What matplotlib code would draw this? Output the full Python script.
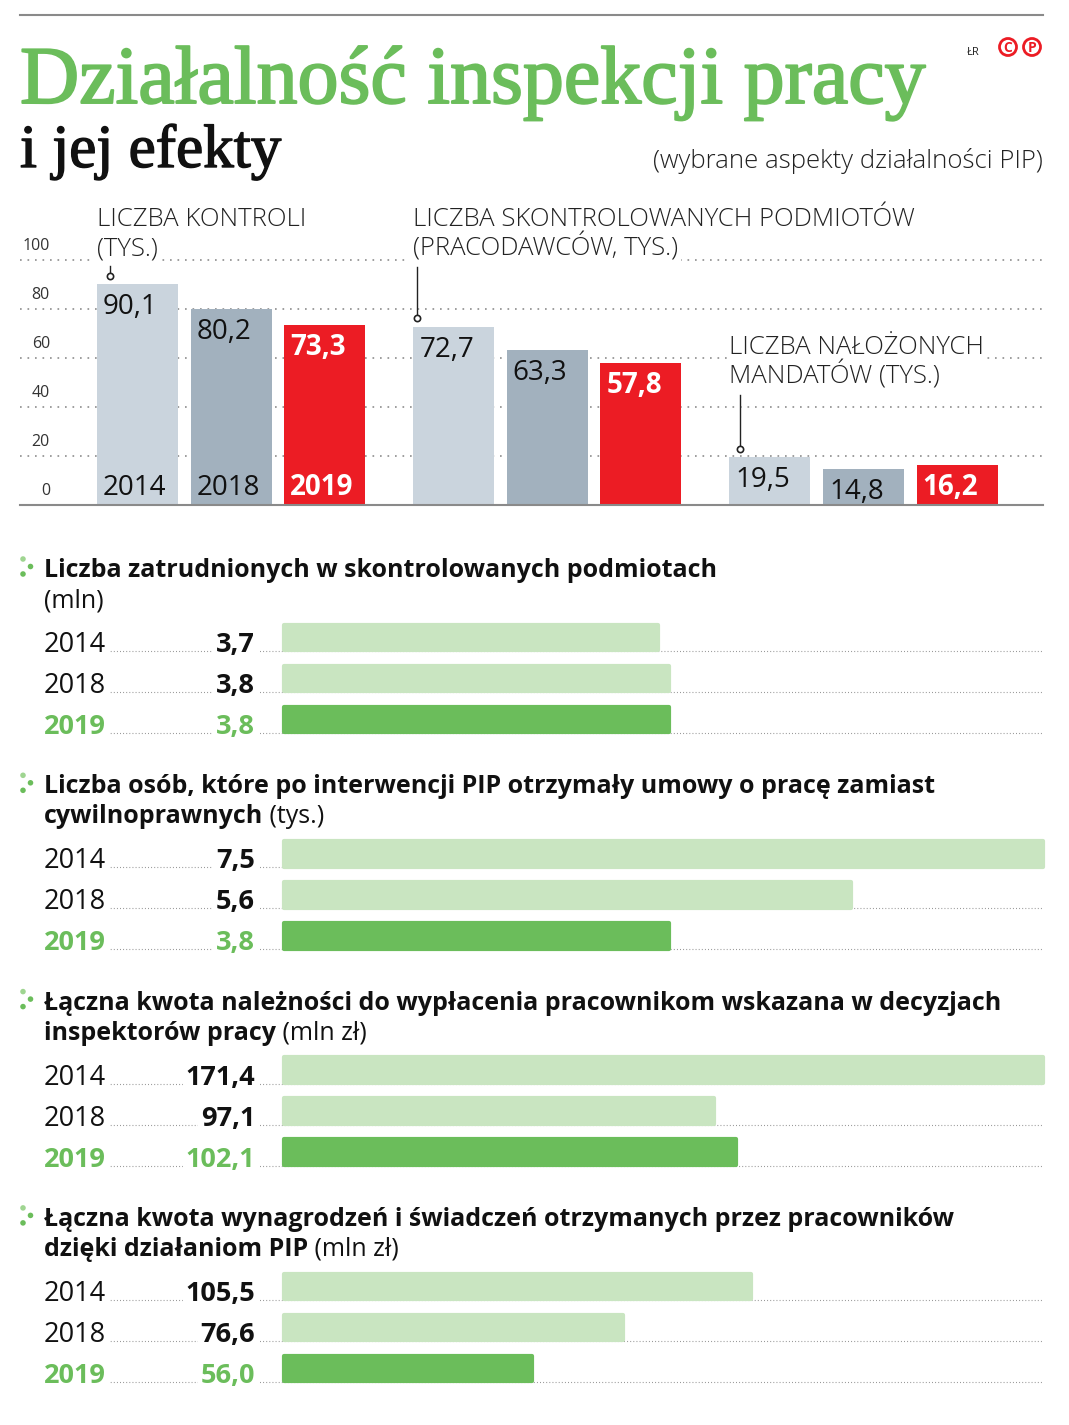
import matplotlib.pyplot as plt
import matplotlib.transforms as mtransforms
import matplotlib.patheffects as pe
from matplotlib.patches import Circle

W, H = 1069, 1425
SANS = 'Open Sans'
SERIF = 'Liberation Serif'

# --- data ---
years = ['2014', '2018', '2019']
group_titles = [['LICZBA KONTROLI', '(TYS.)'],
                ['LICZBA SKONTROLOWANYCH PODMIOTÓW', '(PRACODAWCÓW, TYS.)'],
                ['LICZBA NAŁOŻONYCH', 'MANDATÓW (TYS.)']]
kontrole = [90.1, 80.2, 73.3]
podmioty = [72.7, 63.3, 57.8]
mandaty = [19.5, 14.8, 16.2]
y_ticks = [0, 20, 40, 60, 80, 100]

zatrudnieni = [3.7, 3.8, 3.8]
umowy = [7.5, 5.6, 3.8]
naleznosci = [171.4, 97.1, 102.1]
wynagrodzenia = [105.5, 76.6, 56.0]

sec_titles = [
    ('Liczba zatrudnionych w skontrolowanych podmiotach', '', '(mln)'),
    ('Liczba osób, które po interwencji PIP otrzymały umowy o pracę zamiast', 'cywilnoprawnych', ' (tys.)'),
    ('Łączna kwota należności do wypłacenia pracownikom wskazana w decyzjach', 'inspektorów pracy', ' (mln zł)'),
    ('Łączna kwota wynagrodzeń i świadczeń otrzymanych przez pracowników', 'dzięki działaniom PIP', ' (mln zł)'),
]

GRAY_LIGHT = '#cad4dd'
GRAY = '#a2b1be'
RED = '#ec1c24'
GREEN = '#6bbd5b'
GREEN_LIGHT = '#c9e5c1'
DOT = '#8c8c8c'


def fmt(v):
    return f'{v:.1f}'.replace('.', ',')


fig = plt.figure(figsize=(W / 100, H / 100), dpi=100)


def px_axes(x0, y0, x1, y1, **kw):
    return fig.add_axes([x0 / W, 1 - y1 / H, (x1 - x0) / W, (y1 - y0) / H], **kw)


# canvas in pixel coords for decorations and text
cv = px_axes(0, 0, W, H, zorder=0)
cv.set_xlim(0, W)
cv.set_ylim(H, 0)
cv.axis('off')

cv.plot([20, 1043], [15, 15], color='#8a8a8a', lw=1.5)
cv.text(20, 103, 'Działalność inspekcji pracy', family=SERIF, size=59,
        color=GREEN, va='baseline',
        path_effects=[pe.withStroke(linewidth=1.4, foreground=GREEN)])
cv.text(20, 167, 'i jej efekty', family=SERIF, size=44, color='#111', va='baseline',
        path_effects=[pe.withStroke(linewidth=1.0, foreground='#111')])
cv.text(1043, 168, '(wybrane aspekty działalności PIP)', family=SANS, weight='light',
        size=18.5, color='#222', ha='right', va='baseline')
cv.text(967, 55, 'ŁR', family=SANS, size=8, color='#222', va='baseline')
for cx, ch in [(1008, 'C'), (1032, 'P')]:
    cv.add_patch(Circle((cx, 47), 8.5, fill=False, ec=RED, lw=2))
    cv.text(cx, 47.5, ch, family=SANS, weight='bold', size=10, color=RED,
            ha='center', va='center')

# --- top bar chart ---
GROUP_STEP = 3.38
BAR_W = 0.866
ax = px_axes(20, 260, 1043, 505, zorder=1)
ax.set_xlim(-1.257, 9.679)
ax.set_ylim(0, 100)
ax.axis('off')
hdr = mtransforms.blended_transform_factory(ax.transData, cv.transData)

for v in y_ticks[1:]:
    ax.axhline(v, color=DOT, ls=(0, (1, 3.5)), lw=1.2, zorder=0, clip_on=False)
ax.axhline(0, color='#8a8a8a', lw=1.5, zorder=3, clip_on=False)
for v in y_ticks:
    ax.annotate(str(v), xy=(0, v), xycoords=('axes fraction', 'data'), xytext=(30, 10),
                textcoords='offset pixels', ha='right', va='baseline', size=11.5,
                family=SANS, color='#333')

bar_colors = [GRAY_LIGHT, GRAY, RED]
leader_dx = [0.14, 0.04, 0.11]
leader_top = [97.5, 97.0, 45.0]
header_base = [[226, 255], [226, 255], [354, 383]]
for g, vals in enumerate([kontrole, podmioty, mandaty]):
    xs = [g * GROUP_STEP + j for j in range(3)]
    ax.bar(xs, vals, width=BAR_W, color=bar_colors, zorder=2)
    for j, v in enumerate(vals):
        hi = j == 2
        ax.annotate(fmt(v), xy=(xs[j] - BAR_W / 2, v), xytext=(6, -30),
                    textcoords='offset pixels', ha='left', va='baseline', size=20,
                    family=SANS, weight='bold' if hi else 'normal',
                    color='white' if hi else '#111', zorder=4)
        if g == 0:
            ax.annotate(years[j], xy=(xs[j] - BAR_W / 2, 0), xytext=(6, 10),
                        textcoords='offset pixels', ha='left', va='baseline', size=20,
                        family=SANS, weight='bold' if hi else 'normal',
                        color='white' if hi else '#111', zorder=4)
    x0 = xs[0] - BAR_W / 2
    for line, yb in zip(group_titles[g], header_base[g]):
        ax.text(x0, yb, line, transform=hdr, family=SANS, weight='light', size=18.5,
                color='#222', va='baseline', zorder=5,
                bbox=dict(fc='white', ec='none', pad=2))
    lx = x0 + leader_dx[g]
    ax.plot([lx, lx], [vals[0] + 3.5, leader_top[g]], color='#222', lw=1, zorder=5,
            clip_on=False)
    ax.plot([lx], [vals[0] + 3.5], 'o', ms=4.5, mfc='white', mec='#222', mew=1.2,
            zorder=6, clip_on=False)

# --- horizontal bar sections ---
sections = [(zatrudnieni, 7.5), (umowy, 7.5), (naleznosci, 171.4), (wynagrodzenia, 171.4)]
for k, (vals, xmax) in enumerate(sections):
    top = 623 + 216.3 * k
    sax = px_axes(284, top - 6, 1043, top - 6 + 123, zorder=1)
    sax.set_xlim(0, xmax)
    sax.set_ylim(2.5, -0.5)
    sax.axis('off')
    cols = [GREEN_LIGHT, GREEN_LIGHT, GREEN]
    sax.barh(range(3), vals, height=0.62, color=cols, edgecolor=cols, lw=3,
             joinstyle='round', clip_on=False)

    # bullet
    cv.scatter([23, 23, 30.5], [top - 64, top - 49, top - 56.5], s=16,
               color=['#9fd591', GREEN, GREEN], lw=0)
    b1, b2, reg = sec_titles[k]
    cv.text(44, top - 46, b1, family=SANS, weight='bold', size=18, color='#111',
            va='baseline')
    if b2:
        t2 = cv.text(44, top - 16, b2, family=SANS, weight='bold', size=18,
                     color='#111', va='baseline')
        cv.annotate(reg, xy=(1, 0), xycoords=t2, family=SANS, size=18, color='#111',
                    ha='left', va='bottom')
    else:
        cv.text(44, top - 16, reg, family=SANS, size=18, color='#111', va='baseline')

    for i, (yr, v) in enumerate(zip(years, vals)):
        yb = top + 29 + 41 * i
        hi = i == 2
        c = GREEN if hi else '#111'
        cv.plot([104, 1043], [yb - 1, yb - 1], color=DOT, ls=(0, (0.8, 2)), lw=0.8,
                zorder=0)
        cv.text(44, yb, yr, family=SANS, size=19.5, color=c,
                weight='bold' if hi else 'normal', va='baseline', zorder=2,
                bbox=dict(fc='white', ec='none', pad=2))
        cv.text(255, yb, fmt(v), family=SANS, size=19.5, color=c, weight='bold',
                ha='right', va='baseline', zorder=2,
                bbox=dict(fc='white', ec='none', pad=2))

fig.savefig('out.png', dpi=100, facecolor='white')
